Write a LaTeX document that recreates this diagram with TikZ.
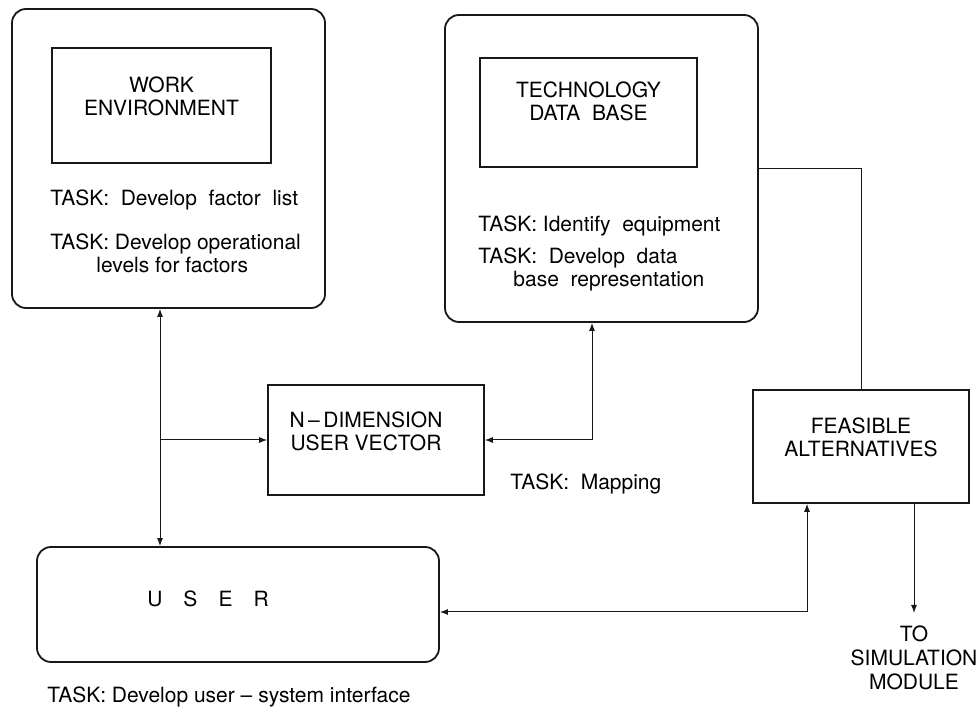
\documentclass[tikz,border=0pt]{standalone}
\usepackage{fontspec}
\setmainfont{TeX Gyre Heros}
\usetikzlibrary{
  arrows.meta,
  positioning,
  calc
}
\definecolor{InkBlack}{RGB}{24,24,24}
\tikzset{
  panel/.style={draw=InkBlack,line width=0.9pt,rounded corners=7pt,inner sep=0pt},
  block/.style={draw=InkBlack,line width=0.8pt,align=center,inner sep=0pt,text depth=9pt},
  tasktext/.style={anchor=north west,align=left,inner sep=0pt},
  link/.style={draw=InkBlack,line width=0.5pt},
  linkarrow/.style={link,-{Latex[length=4pt,width=3pt]}},
  linkboth/.style={link,{Latex[length=4pt,width=3pt]}-{Latex[length=4pt,width=3pt]}}
}

\begin{document}
\begin{tikzpicture}[x=0.5pt,y=-0.5pt,font=\fontsize{10.5}{11.5}\selectfont]
\useasboundingbox (0,0) rectangle (976,711);

% upper panels
\node[panel, minimum width=156.5pt, minimum height=149.5pt] (workpanel) at (168.5,158.5) {};
\node[block, minimum width=109.5pt, minimum height=57.5pt] (workenv) at (161.5,105.5) {WORK\\ENVIRONMENT};
\node[tasktext] (factortask) at (50,189) {TASK:\ \ Develop\ \ factor\ \ list};
\node[tasktext] (leveltask) at (50,233) {TASK:\ Develop operational\\\hspace*{23pt}levels for factors};

\node[panel, minimum width=156.5pt, minimum height=153.5pt] (techpanel) at (601.5,168.5) {};
\node[block, minimum width=108.5pt, minimum height=54.5pt, text depth=11pt] (techbase) at (588.5,112.5) {TECHNOLOGY\\DATA\ \ BASE};
\node[tasktext] (equiptask) at (478,215) {TASK:\ Identify\ \ equipment};
\node[tasktext] (reprtask) at (478,247) {TASK:\ \ Develop\ \ data\\\hspace*{17.5pt}base\ \ representation};

% middle blocks
\node[block, minimum width=108pt, minimum height=55pt] (ndim) at (376,440) {N\,--\,DIMENSION\hspace*{10pt}\\USER\ VECTOR\hspace*{10pt}};
\node[anchor=base west, inner sep=0pt] (maptask) at (510,490) {TASK:\ \ Mapping};
\node[block, minimum width=108pt, minimum height=56.5pt] (feas) at (861,446.5) {FEASIBLE\\ALTERNATIVES};

% user
\node[panel, minimum width=201pt, minimum height=57.5pt, text depth=6pt] (userpanel) at (238,604.5) {U\quad S\quad E\quad R\hspace*{30pt}};
\node[anchor=base west, inner sep=0pt] (usertask) at (47,703) {TASK:\ Develop user -- system interface};

\node[anchor=north, align=center, inner sep=6pt, font=\fontsize{10.5}{12}\selectfont] (sim) at (914,613) {TO\\SIMULATION\\MODULE};

\coordinate (lx) at (160,0);
\coordinate (tx) at (592,0);
\coordinate (ux) at (807,612);

\draw[linkboth] (workpanel.south -| lx) -- (userpanel.north -| lx);
\draw[linkarrow] (lx |- ndim.west) -- (ndim.west);
\draw[linkboth] (ndim.east) -| (tx |- techpanel.south);
\draw[link] (techpanel.east) -| (feas.north);
\draw[linkboth] (userpanel.east |- ux) -- (ux) -- (ux |- feas.south);
\draw[linkarrow] (sim.north |- feas.south) -- (sim.north);
\end{tikzpicture}
\end{document}
